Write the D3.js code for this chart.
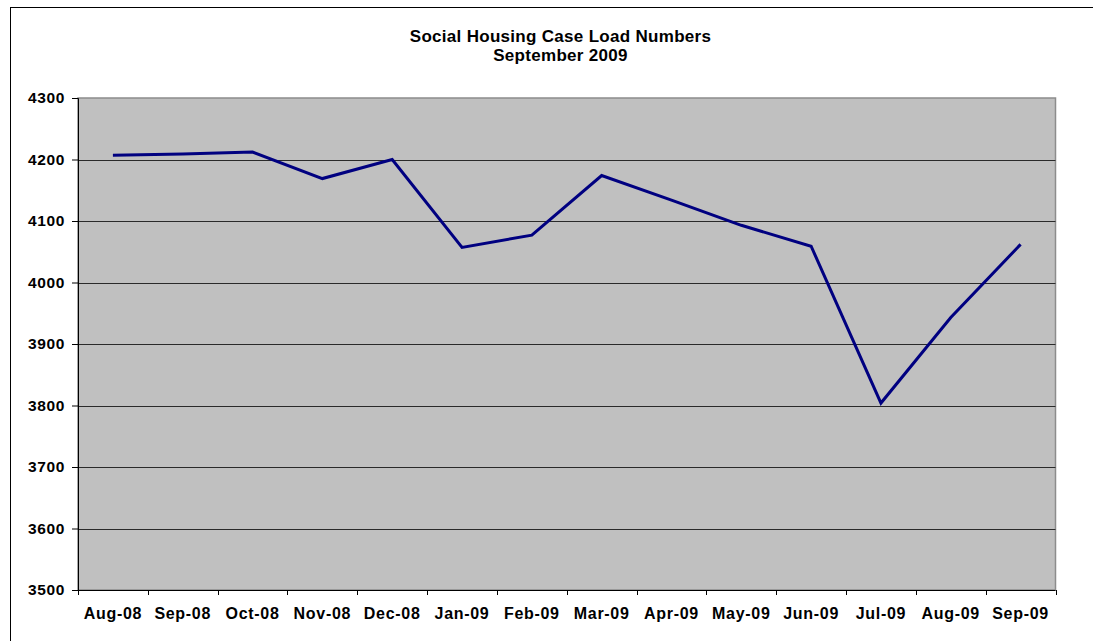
<!DOCTYPE html>
<html><head><meta charset="utf-8">
<script src="https://cdn.jsdelivr.net/npm/d3@7"></script>
<style>html,body{margin:0;background:#fff;overflow:hidden;}svg{display:block;overflow:hidden;font-family:"Liberation Sans",Arial,sans-serif;}</style>
</head><body>
<svg id="c" width="1093" height="641"></svg>
<script>
const titleLines = ["Social Housing Case Load Numbers", "September 2009"];
const months = ["Aug-08","Sep-08","Oct-08","Nov-08","Dec-08","Jan-09","Feb-09","Mar-09","Apr-09","May-09","Jun-09","Jul-09","Aug-09","Sep-09"];
const caseLoad = [4207, 4209, 4212, 4169, 4200, 4057, 4077, 4174, 4134, 4093, 4059, 3804, 3943, 4062];
const yTicks = [3500, 3600, 3700, 3800, 3900, 4000, 4100, 4200, 4300];

const svg = d3.select("#c");
const m = {left: 78, top: 98, right: 1055.5, bottom: 590};

// outer chart border (only top and left are inside the picture)
svg.append("line").attr("x1", 10.5).attr("x2", 10.5).attr("y1", 7).attr("y2", 641).attr("stroke", "#000");
svg.append("line").attr("x1", 10).attr("x2", 1093).attr("y1", 7.5).attr("y2", 7.5).attr("stroke", "#000");

const x = d3.scaleBand().domain(months).range([m.left, m.right]).padding(0);
const y = d3.scaleLinear().domain([3500, 4300]).range([m.bottom, m.top]);

// plot area
svg.append("rect").attr("x", m.left).attr("y", m.top).attr("width", m.right - m.left).attr("height", m.bottom - m.top)
  .attr("fill", "#c0c0c0").attr("stroke", "#8c8c8c").attr("stroke-width", 1.5);

// gridlines
svg.append("g").selectAll("line").data(yTicks.filter(d => d > 3500 && d < 4300)).join("line")
  .attr("x1", m.left).attr("x2", m.right)
  .attr("y1", d => Math.round(y(d)) + 0.5).attr("y2", d => Math.round(y(d)) + 0.5)
  .attr("stroke", "#2a2a2a").attr("stroke-width", 1);

// y axis
const yAxis = svg.append("g").attr("transform", `translate(${m.left},0)`)
  .call(d3.axisLeft(y).tickValues(yTicks).tickSize(6).tickPadding(7).tickFormat(d3.format("d")));
yAxis.select(".domain").attr("stroke", "#000");
yAxis.selectAll(".tick line").attr("stroke", "#000");
yAxis.selectAll("text").attr("font-size", 15.5).attr("font-weight", "bold").attr("fill", "#000")
  .attr("letter-spacing", 0.6);

// x axis: ticks at category boundaries
const xAxisG = svg.append("g").attr("transform", `translate(0,${m.bottom})`);
xAxisG.append("line").attr("x1", m.left).attr("x2", m.right).attr("y1", 0.5).attr("y2", 0.5).attr("stroke", "#000");
const bounds = months.map(d => x(d)).concat([m.right]);
xAxisG.selectAll("line.tk").data(bounds).join("line").attr("class", "tk")
  .attr("x1", d => Math.round(d) + 0.5).attr("x2", d => Math.round(d) + 0.5).attr("y1", 0).attr("y2", 5)
  .attr("stroke", "#000");
xAxisG.selectAll("text").data(months).join("text")
  .attr("x", d => x(d) + x.bandwidth() / 2).attr("y", 28.5)
  .attr("text-anchor", "middle").attr("font-size", 16).attr("font-weight", "bold").attr("letter-spacing", 0.7)
  .text(d => d);

// line
const line = d3.line().x((d, i) => x(months[i]) + x.bandwidth() / 2).y(d => y(d));
svg.append("path").datum(caseLoad).attr("d", line).attr("fill", "none")
  .attr("stroke", "#000080").attr("stroke-width", 3).attr("stroke-linejoin", "miter");

// title
svg.append("g").selectAll("text").data(titleLines).join("text")
  .attr("x", 560.5).attr("y", (d, i) => 42 + i * 18.5)
  .attr("text-anchor", "middle").attr("font-size", 17).attr("font-weight", "bold").attr("letter-spacing", 0.3)
  .text(d => d);
</script>
</body></html>
